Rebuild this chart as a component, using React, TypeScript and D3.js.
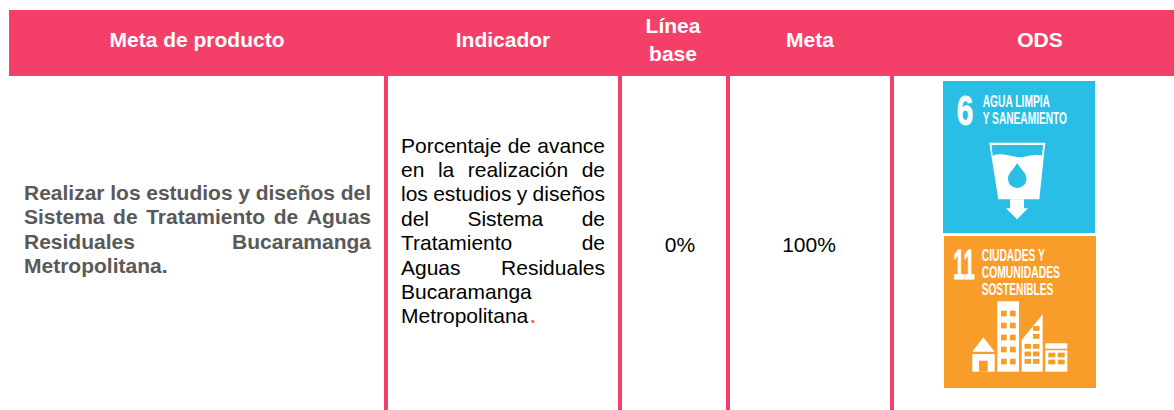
import React from "react";
import * as d3 from "d3";

const WIDTH = 1174;
const HEIGHT = 410;
const FONT = "'Liberation Sans', Arial, sans-serif";
const CONDENSED = "'Liberation Sans Narrow', 'Liberation Sans', Arial, sans-serif";
const PINK = "#F44068";
const FONT_SIZE = 21;
const LABEL_SIZE = 16.3;
const LINE_H = 24.4;

const headers = ["Meta de producto", "Indicador", "Línea|base", "Meta", "ODS"];
const headerCenters = [197, 503, 673, 810, 1040];
const dividers = [386, 620, 728, 892];

const metaLines = [
  "Realizar los estudios y diseños del",
  "Sistema de Tratamiento de Aguas",
  "Residuales Bucaramanga",
  "Metropolitana.",
];
const indicadorLines = [
  "Porcentaje de avance",
  "en la realización de",
  "los estudios y diseños",
  "del Sistema de",
  "Tratamiento de",
  "Aguas Residuales",
  "Bucaramanga",
  "Metropolitana",
];
const lineaBase = "0%";
const meta = "100%";

const ctx = document.createElement("canvas").getContext("2d")!;

// word by word so the lines come out justified like the original table cell
function JustifiedLine({ text, x0, x1, y, bold, fill, justify }: any) {
  const font = `${bold ? "bold " : ""}${FONT_SIZE}px ${FONT}`;
  ctx.font = font;
  const words = text.split(" ");
  const widths = words.map((w: string) => ctx.measureText(w).width);
  const total = d3.sum(widths);
  const gap = justify && words.length > 1
    ? (x1 - x0 - total) / (words.length - 1)
    : ctx.measureText(" ").width;
  let x = x0;
  return (
    <g>
      {words.map((w: string, i: number) => {
        const el = (
          <text key={i} x={x} y={y} fontFamily={FONT} fontSize={FONT_SIZE}
                fontWeight={bold ? 700 : 400} fill={fill}>
            {w}
          </text>
        );
        x += widths[i] + gap;
        return el;
      })}
    </g>
  );
}

function Label({ x, y, w, size, children }: any) {
  return (
    <text x={x} y={y} fontFamily={CONDENSED} fontWeight={700} fontSize={size} fill="#fff"
          textLength={w} lengthAdjust="spacingAndGlyphs">
      {children}
    </text>
  );
}

// the big goal number, squeezed with a transform so its box stays clear of the labels
function GoalNumber({ x, y, w, children }: any) {
  const size = 43;
  ctx.font = `bold ${size}px ${CONDENSED}`;
  const sx = w / ctx.measureText(children).width;
  return (
    <text transform={`translate(${x},${y}) scale(${sx},1)`} fontFamily={CONDENSED} fontWeight={700}
          fontSize={size} fill="#fff" stroke="#fff" strokeWidth={0.8}>
      {children}
    </text>
  );
}

const poly = (pts: [number, number][]) => d3.line()(pts)! + "Z";

function WaterIcon({ x, y }: { x: number; y: number }) {
  const drop = d3.path();
  drop.moveTo(31.7, 21);
  drop.bezierCurveTo(28, 28, 22.5, 31, 22.5, 36.5);
  drop.bezierCurveTo(22.5, 49, 41, 49, 41, 36.5);
  drop.bezierCurveTo(41, 31, 35.5, 28, 31.7, 21);
  return (
    <g transform={`translate(${x},${y})`}>
      <rect width={152} height={152} fill="#28BEE6" />
      <GoalNumber x={13.7} y={44} w={16.6}>6</GoalNumber>
      <Label x={39.7} y={25.7} w={67.3} size={LABEL_SIZE}>AGUA LIMPIA</Label>
      <Label x={39.7} y={43} w={84.3} size={LABEL_SIZE}>Y SANEAMIENTO</Label>
      <g transform="translate(42.5,61)">
        <path d={poly([[3.8, 0.7], [59.8, 0.7], [53.8, 57.3], [12.8, 57.3]])} fill="#fff" />
        <path d="M6,3 L57.6,3 L56.4,13.5 C47,10.5 40,16.5 31,15 C22,13.5 14,10.5 7.2,14 Z" fill="#28BEE6" />
        <path d={drop.toString()} fill="#28BEE6" />
        <path d={poly([[24.5, 57.3], [38.5, 57.3], [38.5, 66.3], [42.5, 66.3], [31.5, 77.3], [20.5, 66.3], [24.5, 66.3]])} fill="#fff" />
      </g>
    </g>
  );
}

const towerRows = [74.7, 86.7, 98.7, 110.7, 122.7];
const towerCols = [57, 66];
const annexCells: [number, number][] = [[89, 90], [89, 98], [80.5, 108], [89, 108], [80.5, 115.5], [89, 115.5], [80.5, 123], [89, 123]];
const lowRows = [116.7, 123.7];
const lowCols = [104.3, 113.7];

function CityIcon({ x, y }: { x: number; y: number }) {
  const bg = "#F99D2A";
  return (
    <g transform={`translate(${x},${y})`}>
      <rect width={152} height={152} fill={bg} />
      <GoalNumber x={9.3} y={43.3} w={21.7}>11</GoalNumber>
      <Label x={37.7} y={24.7} w={63.3} size={LABEL_SIZE}>CIUDADES Y</Label>
      <Label x={37.7} y={42} w={78.3} size={LABEL_SIZE}>COMUNIDADES</Label>
      <Label x={37.7} y={59} w={71.6} size={LABEL_SIZE}>SOSTENIBLES</Label>
      <path d={poly([[28.3, 115.7], [39.3, 101.3], [50.7, 115.7]])} fill="#fff" />
      <rect x={28.3} y={118} width={22.4} height={17.7} fill="#fff" />
      <rect x={35} y={124.7} width={8.7} height={11} fill={bg} />
      <rect x={53.3} y={65.3} width={21.7} height={70.4} fill="#fff" />
      {towerRows.map(r => towerCols.map(c => (
        <rect key={`${r}-${c}`} x={c} y={r} width={5.7} height={5.7} fill={bg} />
      )))}
      <path d={poly([[77.7, 104], [98.7, 78.3], [98.7, 135.7], [77.7, 135.7]])} fill="#fff" />
      {annexCells.map(([cx, cy]) => (
        <rect key={`${cx}-${cy}`} x={cx} y={cy} width={6.5} height={4.8} fill={bg} />
      ))}
      <rect x={101.3} y={107.3} width={22} height={5.4} fill="#fff" />
      <rect x={101.3} y={114.3} width={22} height={21.4} fill="#fff" />
      {lowRows.map(r => lowCols.map(c => (
        <rect key={`${r}-${c}`} x={c} y={r} width={7} height={4.6} fill={bg} />
      )))}
    </g>
  );
}

export default function App() {
  return (
    <svg width={WIDTH} height={HEIGHT} viewBox={`0 0 ${WIDTH} ${HEIGHT}`}
         style={{ position: "absolute", left: 0, top: 0, background: "#fff" }}>
      <rect x={9} y={10} width={WIDTH - 9} height={66} fill={PINK} />
      {dividers.map(d => (
        <rect key={d} x={d - 2} y={76} width={4} height={HEIGHT - 76} fill={PINK} />
      ))}

      {headers.map((h, i) => {
        const parts = h.split("|");
        const y0 = parts.length > 1 ? 33 : 47;
        return (
          <text key={h} textAnchor="middle" fontFamily={FONT} fontWeight={700}
                fontSize={FONT_SIZE} fill="#fff">
            {parts.map((p, j) => (
              <tspan key={p} x={headerCenters[i]} y={y0 + j * 28}>{p}</tspan>
            ))}
          </text>
        );
      })}

      {metaLines.map((l, i) => (
        <JustifiedLine key={l} text={l} x0={24} x1={371} y={200 + i * LINE_H} bold
                       fill="#595959" justify={i < metaLines.length - 1} />
      ))}

      {indicadorLines.map((l, i) => (
        <JustifiedLine key={l} text={l} x0={401} x1={605} y={152.5 + i * LINE_H}
                       fill="#000" justify={i < 6} />
      ))}
      <text x={530} y={152.5 + 7 * LINE_H} fontFamily={FONT} fontSize={FONT_SIZE}
            fontWeight={700} fill="#ED7D31">.</text>

      <text x={680} y={252} textAnchor="middle" fontFamily={FONT} fontSize={FONT_SIZE}>{lineaBase}</text>
      <text x={809} y={252} textAnchor="middle" fontFamily={FONT} fontSize={FONT_SIZE}>{meta}</text>

      <WaterIcon x={943} y={81} />
      <CityIcon x={944} y={236} />
    </svg>
  );
}
